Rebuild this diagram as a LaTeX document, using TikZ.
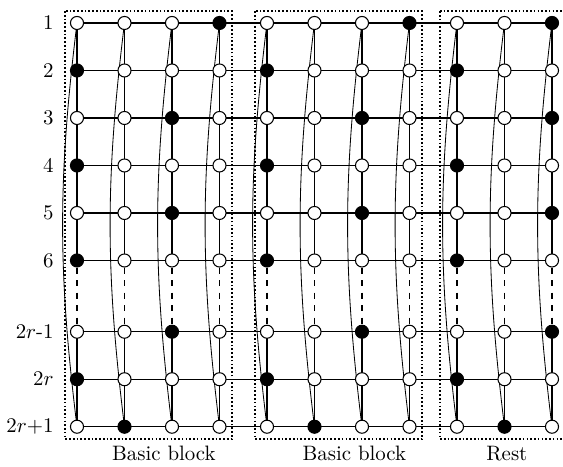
\documentclass[tikz,border=0pt]{standalone}
\usetikzlibrary{backgrounds}
\begin{document}
\begin{tikzpicture}[x=0.8cm,y=0.8cm,
  wnode/.style={circle,draw,fill=white,inner sep=0pt,minimum size=0.22cm,line width=0.5pt},
  bnode/.style={circle,draw,fill=black,inner sep=0pt,minimum size=0.22cm,line width=0.5pt},
  gridline/.style={line width=0.6pt},
  arcline/.style={line width=0.4pt},
  blockbox/.style={line width=0.8pt,dash pattern=on 0.8pt off 1pt},
  rowlab/.style={anchor=east,inner sep=0pt},
  blocklab/.style={anchor=base,inner sep=0pt}]
\useasboundingbox (-1.621,0.484) rectangle (10.232,-9.347);
% row labels and nodes
\foreach \r/\y/\lab/\off in {1/0/1/3,2/-1/2/0,3/-2/3/2,4/-3/4/0,5/-4/5/2,6/-5/6/0,7/-6.5/{$2r$-1}/2,8/-7.5/{$2r$}/0,9/-8.5/{$2r$+1}/1}{
  \node[rowlab] (lab\r) at (-0.484,\y) {\lab};
  \foreach \c in {0,...,10}{
    \pgfmathtruncatemacro\isb{(mod(\c+4-\off,4)==0) || (\r==1 && \c==10)}
    \ifnum\isb=1
      \node[bnode] (n\r-\c) at (\c,\y) {};
    \else
      \node[wnode] (n\r-\c) at (\c,\y) {};
    \fi
  }
}
\begin{pgfonlayer}{background}
  \foreach \r in {1,...,9}{
    \draw[gridline] (n\r-0.center) -- (n\r-10.center);
  }
  \foreach \c in {0,...,10}{
    \draw[gridline] (n1-\c.center) -- (n6-\c.center);
    \draw[gridline,dashed] (n6-\c) -- (n7-\c);
    \draw[gridline] (n7-\c.center) -- (n9-\c.center);
    \draw[arcline] (n1-\c.center) to[bend right=7] (n9-\c.center);
  }
\end{pgfonlayer}
% blocks
\draw[blockbox] (-0.25,0.25) rectangle (3.26,-8.76);
\draw[blockbox] (3.75,0.25) rectangle (7.26,-8.76);
\draw[blockbox] (7.64,0.25) -- (10.7,0.25);
\draw[blockbox] (7.64,0.25) -- (7.64,-8.76) -- (10.7,-8.76);
\node[blocklab] (bb1) at (1.83,-9.22) {Basic block};
\node[blocklab] (bb2) at (5.84,-9.22) {Basic block};
\node[blocklab] (rest) at (9.05,-9.22) {Rest};
\end{tikzpicture}
\end{document}
